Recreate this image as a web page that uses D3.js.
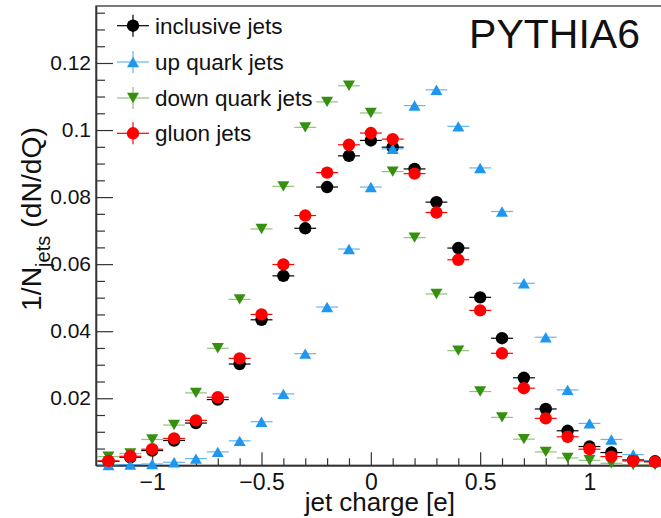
<!DOCTYPE html>
<html>
<head>
<meta charset="utf-8">
<script src="https://cdn.jsdelivr.net/npm/d3@7"></script>
<style>
	body { margin: 0; background: #fff; }
	svg { display: block; font-family: "Liberation Sans", Arial, Helvetica, sans-serif; }
</style>
</head>
<body>
<svg id="plot" width="661" height="518"></svg>
<script>

// bin centres of the jet charge histogram
const charge = [-1.2, -1.1, -1.0, -0.9, -0.8, -0.7, -0.6, -0.5, -0.4, -0.3, -0.2, -0.1, 0.0,
	0.1, 0.2, 0.3, 0.4, 0.5, 0.6, 0.7, 0.8, 0.9, 1.0, 1.1, 1.2, 1.3];
const binHalfWidth = 0.05;

const inclusive = [0.0012, 0.0024, 0.0044, 0.0074, 0.0126, 0.0196, 0.0302, 0.0434, 0.0565, 0.0707, 0.0830, 0.0923, 0.0969,
	0.0949, 0.0884, 0.0785, 0.0648, 0.0501, 0.0379, 0.0261, 0.0168, 0.0103, 0.0056, 0.0038, 0.0016, 0.0012];
const upQuark = [0.0001, 0.0002, 0.0004, 0.0009, 0.0020, 0.0040, 0.0073, 0.0130, 0.0213, 0.0333, 0.0472, 0.0645, 0.0830,
	0.0944, 0.1073, 0.1120, 0.1011, 0.0887, 0.0757, 0.0543, 0.0382, 0.0225, 0.0125, 0.0077, 0.0032, 0.0014];
const downQuark = [0.0026, 0.0035, 0.0077, 0.0120, 0.0216, 0.0349, 0.0495, 0.0705, 0.0832, 0.1008, 0.1084, 0.1132, 0.1051,
	0.0876, 0.0679, 0.0511, 0.0342, 0.0220, 0.0143, 0.0078, 0.0040, 0.0022, 0.0015, 0.0006, 0.0001, 0.0001];
const gluon = [0.0013, 0.0027, 0.0048, 0.0080, 0.0134, 0.0203, 0.0319, 0.0450, 0.0599, 0.0745, 0.0873, 0.0956, 0.0991,
	0.0973, 0.0870, 0.0754, 0.0613, 0.0462, 0.0334, 0.0230, 0.0140, 0.0085, 0.0048, 0.0026, 0.0013, 0.0010];

const seriesNames = ["inclusive jets", "up quark jets", "down quark jets", "gluon jets"];

const xMajorTicks = [-1, -0.5, 0, 0.5, 1];
const xTickLabels = ["\u22121", "\u22120.5", "0", "0.5", "1"];
const xMinorTicks = [-1.2, -1.1, -0.9, -0.8, -0.7, -0.6, -0.4, -0.3, -0.2, -0.1, 0.1, 0.2, 0.3, 0.4,
	0.6, 0.7, 0.8, 0.9, 1.1, 1.2, 1.3];
const yMajorTicks = [0.02, 0.04, 0.06, 0.08, 0.1, 0.12];
const yTickLabels = ["0.02", "0.04", "0.06", "0.08", "0.1", "0.12"];
const yMinorTicks = [0.005, 0.01, 0.015, 0.025, 0.03, 0.035, 0.045, 0.05, 0.055, 0.065, 0.07, 0.075,
	0.085, 0.09, 0.095, 0.105, 0.11, 0.115, 0.125, 0.13, 0.135];

const svg = d3.select("#plot");

const frame = {left: 96, top: 6, right: 666, bottom: 465.3};

const x = d3.scaleLinear()
	.domain([-1.257, 1.35])
	.range([frame.left, frame.right]);

const y = d3.scaleLinear()
	.domain([0, 0.137])
	.range([frame.bottom, frame.top]);

// styles per series, drawing order black, blue, green, red
const styles = [
	{values: inclusive, color: "#000000", shape: "circle", barOpacity: 1},
	{values: upQuark, color: "#1f97ee", shape: "up", barOpacity: 0.7},
	{values: downQuark, color: "#36900f", shape: "down", barOpacity: 0.55},
	{values: gluon, color: "#ff0000", shape: "circle", barOpacity: 1}
];

function markerPath(shape) {
	if (shape == "up") {
		return "M-6,5.2L6,5.2L0,-5.2Z";
	} else if (shape == "down") {
		return "M-6,-5.2L6,-5.2L0,5.2Z";
	}
	return d3.arc()({innerRadius: 0, outerRadius: 6.2, startAngle: 0, endAngle: 2 * Math.PI});
}

// frame
svg.append("rect")
	.attr("x", frame.left)
	.attr("y", frame.top)
	.attr("width", frame.right - frame.left)
	.attr("height", frame.bottom - frame.top)
	.style("fill", "none")
	.style("stroke", "#333")
	.style("stroke-width", 1.3);

// axes, ticks pointing into the frame like ROOT does
const xAxis = svg.append("g")
	.attr("transform", "translate(0," + frame.bottom + ")")
	.call(d3.axisBottom(x)
		.tickValues(xMajorTicks)
		.tickFormat((d, i) => xTickLabels[i])
		.tickSizeInner(-13)
		.tickSizeOuter(0)
		.tickPadding(8));
svg.append("g")
	.attr("transform", "translate(0," + frame.bottom + ")")
	.call(d3.axisBottom(x)
		.tickValues(xMinorTicks)
		.tickFormat("")
		.tickSizeInner(-7)
		.tickSizeOuter(0));

const yAxis = svg.append("g")
	.attr("transform", "translate(" + frame.left + ",0)")
	.call(d3.axisLeft(y)
		.tickValues(yMajorTicks)
		.tickFormat((d, i) => yTickLabels[i])
		.tickSizeInner(-17)
		.tickSizeOuter(0)
		.tickPadding(5));
svg.append("g")
	.attr("transform", "translate(" + frame.left + ",0)")
	.call(d3.axisLeft(y)
		.tickValues(yMinorTicks)
		.tickFormat("")
		.tickSizeInner(-9)
		.tickSizeOuter(0));

svg.selectAll(".domain").style("stroke", "#333").style("stroke-width", 1.3);
svg.selectAll(".tick line").style("stroke", "#333").style("stroke-width", 1.2);
xAxis.selectAll("text")
	.style("font-size", "23px")
	.style("font-family", "\"Liberation Sans\", Arial, sans-serif")
	.style("fill", "#111");
yAxis.selectAll("text")
	.style("font-size", "21px")
	.style("font-family", "\"Liberation Sans\", Arial, sans-serif")
	.style("fill", "#111");

// data points with horizontal bin-width bars
styles.forEach(s => {
	const g = svg.append("g");
	const pts = charge.map((c, i) => ({c: c, v: s.values[i]}));

	g.selectAll("line")
		.data(pts)
		.enter()
		.append("line")
		.attr("x1", d => x(d.c - binHalfWidth))
		.attr("x2", d => x(d.c + binHalfWidth))
		.attr("y1", d => y(d.v))
		.attr("y2", d => y(d.v))
		.style("stroke", s.color)
		.style("stroke-opacity", s.barOpacity)
		.style("stroke-width", 1.2);

	g.selectAll("path")
		.data(pts)
		.enter()
		.append("path")
		.attr("d", markerPath(s.shape))
		.attr("transform", d => "translate(" + x(d.c) + "," + y(d.v) + ")")
		.style("fill", s.color);
});

// legend
const legendRows = [25.7, 62, 98, 133.3];
const legend = svg.append("g");
styles.forEach((s, i) => {
	const row = legend.append("g")
		.attr("transform", "translate(133," + legendRows[i] + ")");
	row.append("line")
		.attr("x1", -16).attr("x2", 16)
		.style("stroke", s.color).style("stroke-opacity", s.barOpacity).style("stroke-width", 1.2);
	row.append("line")
		.attr("y1", -11).attr("y2", 11)
		.style("stroke", s.color).style("stroke-opacity", s.barOpacity).style("stroke-width", 1.2);
	row.append("path")
		.attr("d", markerPath(s.shape))
		.style("fill", s.color);
	row.append("text")
		.attr("x", 22)
		.attr("dy", "0.35em")
		.style("font-size", "22.5px")
		.style("fill", "#111")
		.text(seriesNames[i]);
});

svg.append("text")
	.attr("x", 640)
	.attr("y", 48)
	.attr("text-anchor", "end")
	.style("font-size", "41px")
	.style("fill", "#111")
	.text("PYTHIA6");

svg.append("text")
	.attr("x", 455)
	.attr("y", 511)
	.attr("text-anchor", "end")
	.style("font-size", "26px")
	.style("fill", "#111")
	.text("jet charge [e]");

// y title runs from y=311 up to about y=127
const yTitle = svg.append("text")
	.attr("transform", "translate(41,311) rotate(-90)")
	.attr("text-anchor", "start")
	.style("fill", "#111");
const tMain = yTitle.append("tspan").text("1/N");
const tSub = yTitle.append("tspan").attr("dy", 9).text("jets");
const tRest = yTitle.append("tspan").attr("dy", -9).text(" (dN/dQ)");

function sizeTitle(base) {
	tMain.style("font-size", base + "px");
	tRest.style("font-size", base + "px");
	tSub.style("font-size", (base * 0.71) + "px");
}
sizeTitle(28);
const titleLen = yTitle.node().getComputedTextLength();
if (titleLen > 0) {
	sizeTitle(28 * 184 / titleLen);
}

</script>
</body>
</html>
